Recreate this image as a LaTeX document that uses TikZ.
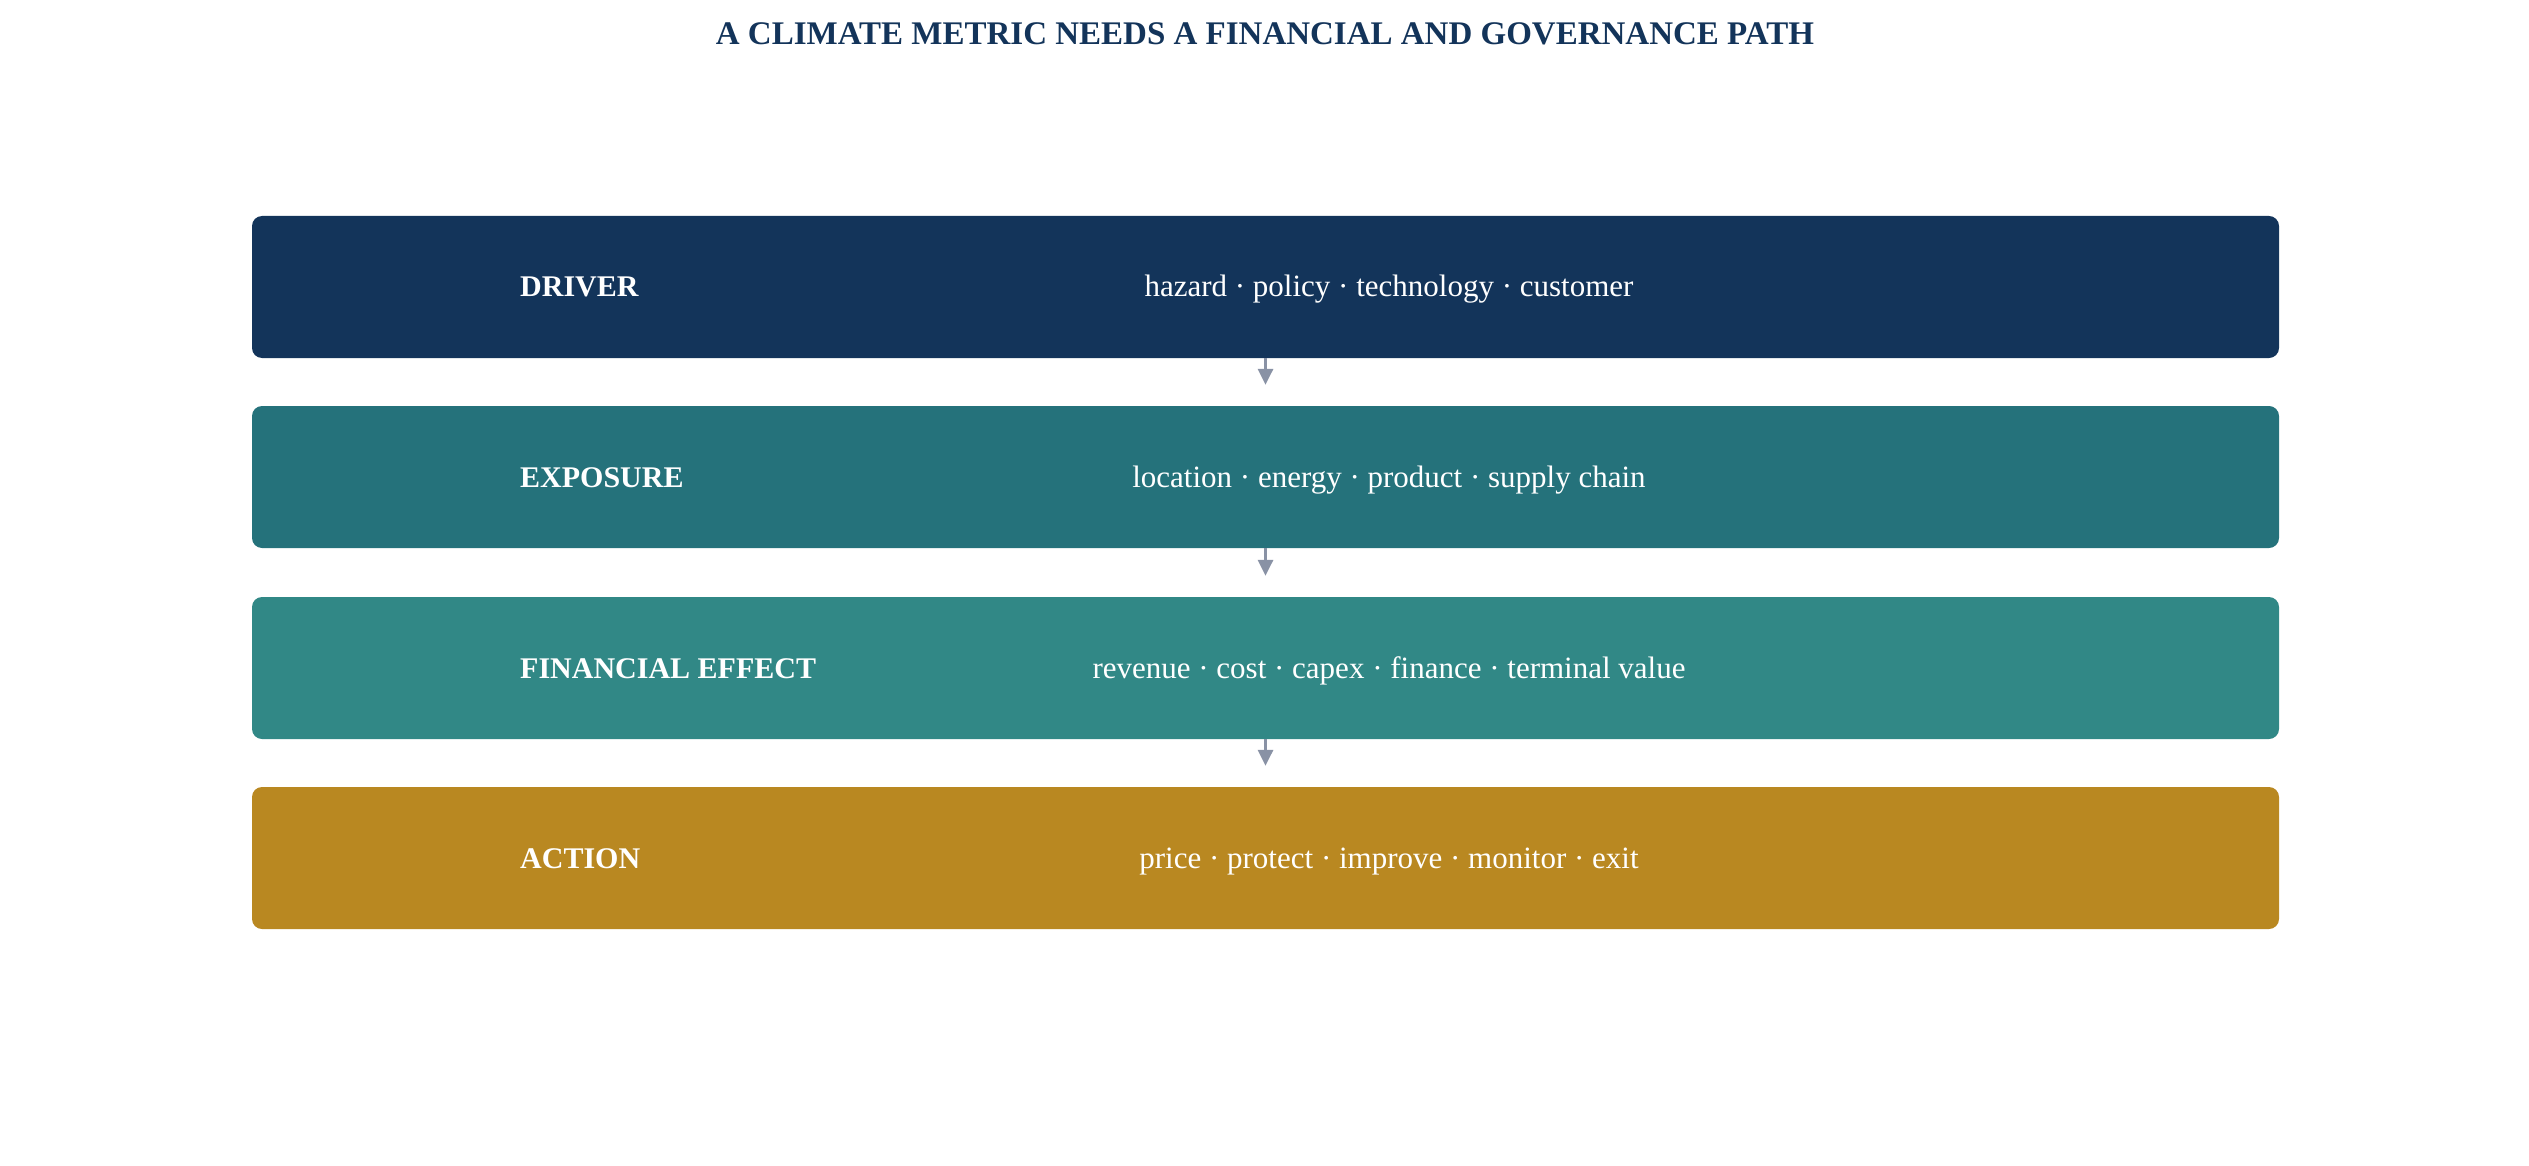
\documentclass[tikz,border=0pt]{standalone}
\usepackage{fontspec}
\setmainfont{Liberation Serif}
\usepackage{xcolor}
\usepackage{tikz}
\usetikzlibrary{arrows.meta}

\definecolor{navy}{HTML}{13345A}
\definecolor{deepteal}{HTML}{25727B}
\definecolor{teal}{HTML}{318886}
\definecolor{ochre}{HTML}{B98821}
\definecolor{arrowgrey}{HTML}{8992A5}

\begin{document}
\begin{tikzpicture}[x=1pt, y=-1pt,
             stage/.style={draw=none, rounded corners=10pt, minimum width=2027pt, minimum height=142pt, inner sep=0pt},
             tag/.style={draw=none, text=white, font=\fontsize{30}{36}\selectfont\bfseries, anchor=base west, inner sep=0pt},
             items/.style={draw=none, text=white, font=\fontsize{31}{37}\selectfont, anchor=base, inner sep=0pt},
             flow/.style={draw=arrowgrey, line width=3.2pt, -{Triangle[length=16pt, width=15pt]}, shorten >=21pt}]
             \useasboundingbox (0, 0) rectangle (2529, 1166);

             \node[draw=none, text=navy, font=\fontsize{33}{40}\selectfont\bfseries, anchor=base, inner sep=0pt] (title) at (1265, 45) {A CLIMATE METRIC NEEDS A FINANCIAL AND GOVERNANCE PATH};

             \node[stage, fill=navy] (driver) at (1265.5, 287) {};
             \node[stage, fill=deepteal] (exposure) at (1265.5, 477) {};
             \node[stage, fill=teal] (effect) at (1265.5, 668) {};
             \node[stage, fill=ochre] (action) at (1265.5, 858) {};

             \node[tag] (driverlabel) at (520, 297) {DRIVER};
             \node[items] (driveritems) at (1389, 297) {hazard · policy · technology · customer};

             \node[tag] (exposurelabel) at (520, 487) {EXPOSURE};
             \node[items] (exposureitems) at (1389, 487) {location · energy · product · supply chain};

             \node[tag] (effectlabel) at (520, 678) {FINANCIAL EFFECT};
             \node[items] (effectitems) at (1389, 678) {revenue · cost · capex · finance · terminal value};

             \node[tag] (actionlabel) at (520, 868) {ACTION};
             \node[items] (actionitems) at (1389, 868) {price · protect · improve · monitor · exit};

             \draw[flow] (driver.south) -- (exposure.north);
             \draw[flow] (exposure.south) -- (effect.north);
             \draw[flow] (effect.south) -- (action.north);
\end{tikzpicture}
\end{document}
